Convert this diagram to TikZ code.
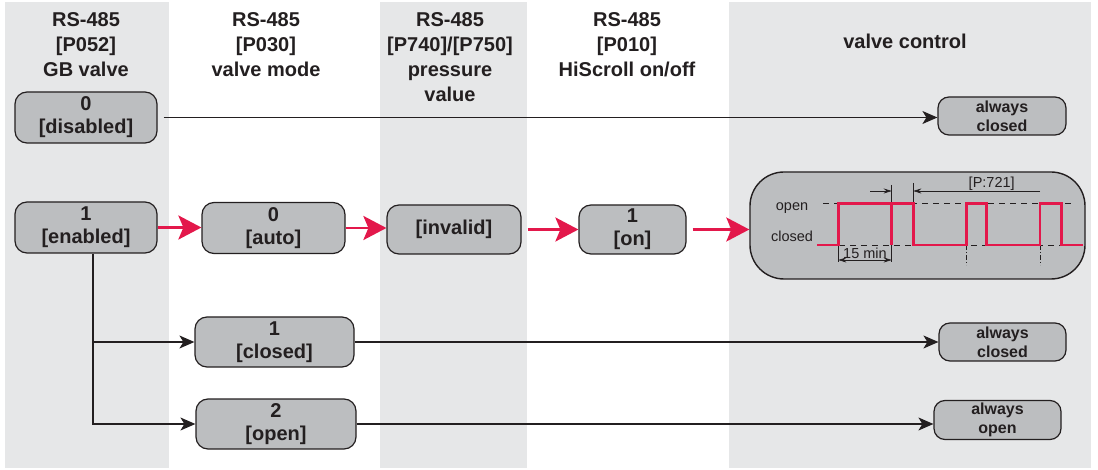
\documentclass[tikz,border=0pt]{standalone}
\usepackage{fontspec}
\setmainfont{Liberation Sans}
\usetikzlibrary{arrows.meta}
\definecolor{bandgray}{RGB}{230,231,232}
\definecolor{boxgray}{RGB}{188,190,192}
\definecolor{ink}{RGB}{35,31,32}
\definecolor{sigred}{RGB}{227,24,75}
\tikzset{
  hdr/.style={anchor=north, inner sep=0pt, align=center, text=ink, font=\bfseries\fontsize{20}{25}\selectfont},
  state/.style={draw=ink, fill=boxgray, line width=1.2pt, rounded corners=12pt, inner sep=0pt, align=center, text=ink, font=\bfseries\fontsize{20}{23}\selectfont},
  result/.style={state, rounded corners=11pt, font=\bfseries\fontsize{16}{19}\selectfont},
  redarrow/.style={draw=sigred, line width=2.7pt, -{Stealth[length=23pt,width=24pt,inset=5pt]}},
  blackarrow/.style={draw=ink, line width=1.2pt, -{Stealth[length=15pt,width=13pt,inset=4pt]}},
  plain/.style={draw=ink, line width=1.2pt},
  small/.style={inner sep=0pt, text=ink, font=\fontsize{14.5}{17}\selectfont},
  dimline/.style={draw=ink, line width=0.7pt},
  dimarrow/.style={draw=ink, line width=0.7pt, -{Stealth[length=8pt,width=5pt]}},
  levelline/.style={draw=ink, line width=0.9pt, dash pattern=on 6pt off 5pt},
  markline/.style={draw=ink, line width=0.8pt, dash pattern=on 5pt off 2pt on 1pt off 2pt},
  signal/.style={draw=sigred, line width=2.7pt, line join=miter}
}
\begin{document}
\begin{tikzpicture}[x=1pt,y=-1pt]
\useasboundingbox (0,0) rectangle (1098,470);
% column bands
\fill[bandgray] (5,2) rectangle (169,468);
\fill[bandgray] (380,2) rectangle (527,468);
\fill[bandgray] (729,2) rectangle (1091,468);

% headers
\node[hdr] (h1) at (86,12.5) {RS-485\\{[P052]}\\GB valve};
\node[hdr] (h2) at (266,12.5) {RS-485\\{[P030]}\\valve mode};
\node[hdr] (h3) at (450,12.5) {RS-485\\{[P740]/[P750]}\\pressure\\value};
\node[hdr] (h4) at (627,12.5) {RS-485\\{[P010]}\\HiScroll on/off};
\node[hdr] (h5) at (905,34) {valve control};

% state nodes
\node[state, minimum width=142pt, minimum height=51pt] (dis) at (86,117.5) {0\\{[disabled]}};
\node[state, minimum width=142pt, minimum height=51pt] (en) at (86,227.5) {1\\{[enabled]}};
\node[state, minimum width=143pt, minimum height=51pt] (auto) at (273.5,228) {0\\{[auto]}};
\node[state, minimum width=134pt, minimum height=49pt] (inv) at (454,229.5) {[invalid]};
\node[state, minimum width=107pt, minimum height=49pt] (on) at (632.5,229.5) {1\\{[on]}};
\node[state, minimum width=159pt, minimum height=50pt] (clo) at (274.5,342) {1\\{[closed]}};
\node[state, minimum width=160pt, minimum height=50pt] (opn) at (276,424) {2\\{[open]}};

% result nodes
\node[result, minimum width=128pt, minimum height=38pt] (ac1) at (1002,116) {always\\closed};
\node[result, minimum width=127pt, minimum height=38pt] (ac2) at (1002.5,342) {always\\closed};
\node[result, minimum width=127pt, minimum height=39pt] (ao) at (997.5,420) {always\\open};

% waveform box
\node[draw=ink, fill=boxgray, line width=1.4pt, rounded corners=34pt, minimum width=335pt, minimum height=107pt, inner sep=0pt] (wave) at (917.5,225.5) {};
\node[small] (lopen) at (792,207.7) {open};
\node[small] (lclosed) at (792,236.7) {closed};

% level lines
\draw[levelline] (823,203.3) -- (1075,203.3);
\draw[levelline] (817,245) -- (1083,245);
% markers below
\draw[markline] (966.7,245) -- (966.7,265);
\draw[markline] (1040,245) -- (1040,265);
% 15 min dimension
\draw[dimline] (838.3,245) -- (838.3,262);
\draw[dimline] (891.7,245) -- (891.7,262);
\draw[draw=ink, line width=0.7pt, {Stealth[length=8pt,width=5pt]}-{Stealth[length=8pt,width=5pt]}] (838.3,260) -- (891.7,260);
\node[small] (lmin) at (865,253.5) {15 min};
% P:721 dimension
\draw[dimline] (891.7,185) -- (891.7,203);
\draw[dimline] (913.3,183) -- (913.3,203);
\draw[dimarrow] (870,191) -- (891.7,191);
\draw[dimarrow] (1040,191) -- (913.3,191);
\node[small] (lp) at (991.7,184) {[P:721]};

% signal
\draw[signal] (817,245) -- (838.3,245) -- (838.3,203.3) -- (913.3,203.3) -- (913.3,245)
  -- (966.7,245) -- (966.7,203.3) -- (986.7,203.3) -- (986.7,245)
  -- (1040,245) -- (1040,203.3) -- (1061.7,203.3) -- (1061.7,245) -- (1083,245);
\draw[signal] (891.7,245) -- (891.7,203.3);

% connectors
\draw[blackarrow] ([xshift=6pt]dis.east) -- (dis.east -| ac1.west);
\draw[redarrow] (en.east) -- (en.east -| auto.west);
\draw[redarrow] (auto.east) -- (auto.east -| inv.west);
\draw[redarrow] ([xshift=6pt]inv.east) -- (on.west);
\draw[redarrow] ([xshift=6pt]on.east) -- (on.east -| wave.west);
\draw[blackarrow] ([xshift=7pt]en.south) |- (opn.west);
\draw[blackarrow] ([xshift=7pt]en.south |- clo.west) -- (clo.west);
\draw[blackarrow] (clo.east) -- (clo.east -| ac2.west);
\draw[blackarrow] (opn.east) -- (opn.east -| ao.west);
\end{tikzpicture}
\end{document}
